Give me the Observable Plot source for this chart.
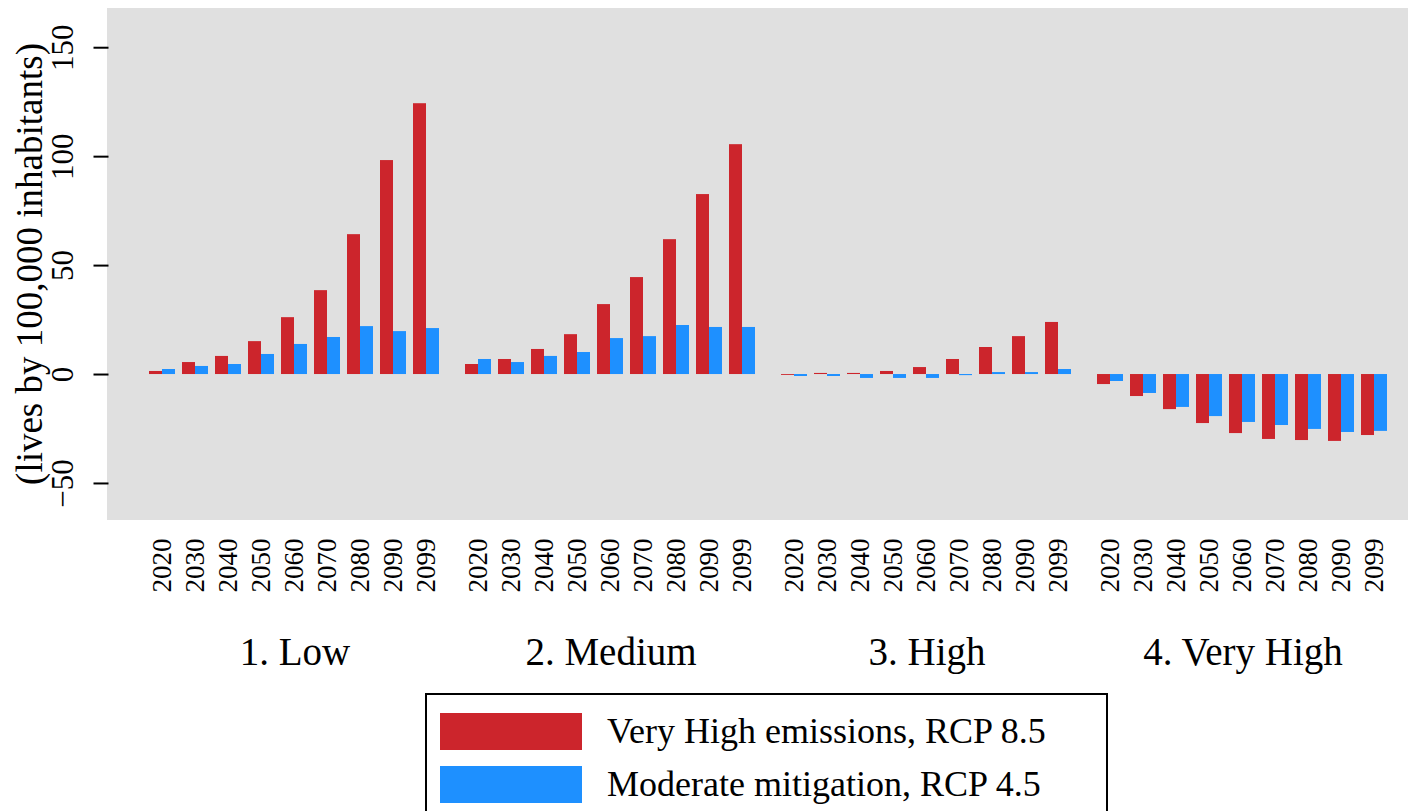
<!DOCTYPE html>
<html><head><meta charset="utf-8">
<script src="https://cdn.jsdelivr.net/npm/d3@7"></script>
<script src="https://cdn.jsdelivr.net/npm/@observablehq/plot@0.6"></script>
<style>
body{margin:0;background:#fff;font-family:"Liberation Serif",serif;}
#chart svg{display:block;}
#legend{margin-left:425px;margin-top:3px;width:679px;height:130px;border:2px solid #000;box-sizing:content-box;position:relative;}
.row{position:absolute;left:13px;display:flex;align-items:center;}
.sw{width:142px;height:37px;}
.lab{margin-left:25px;font-size:36px;color:#000;}
</style></head><body>
<div id="chart"></div>
<div id="legend"></div>
<script>
const groups = ["1. Low", "2. Medium", "3. High", "4. Very High"];
const years = ["2020", "2030", "2040", "2050", "2060", "2070", "2080", "2090", "2099"];
const scenarios = ["Very High emissions, RCP 8.5", "Moderate mitigation, RCP 4.5"];
const colors = ["#cc252c", "#1e90ff"];
const yLabel = "(lives by 100,000 inhabitants)";

// RCP 8.5 values per group (lives by 100,000 inhabitants)
const rcp85Low      = [1.4, 5.5, 8.3, 15.1, 26.1, 38.5, 64.2, 98.2, 124.3];
const rcp85Medium   = [4.6, 6.9, 11.5, 18.3, 32.1, 44.5, 61.9, 82.6, 105.5];
const rcp85High     = [-0.4, 0.5, 0.5, 1.4, 3.2, 6.9, 12.4, 17.4, 23.9];
const rcp85VeryHigh = [-4.6, -10.1, -16.1, -22.5, -27.1, -29.8, -30.3, -30.7, -28.0];
// RCP 4.5 values per group
const rcp45Low      = [2.3, 3.7, 4.6, 9.2, 13.8, 17.0, 22.0, 19.7, 21.1];
const rcp45Medium   = [6.9, 5.5, 8.3, 10.1, 16.5, 17.4, 22.5, 21.6, 21.6];
const rcp45High     = [-0.9, -0.9, -1.8, -1.8, -1.8, -0.5, 0.9, 0.9, 2.3];
const rcp45VeryHigh = [-3.2, -8.7, -15.1, -19.3, -22.0, -23.4, -25.2, -26.6, -26.1];

const yTicks = [-50, 0, 50, 100, 150];

const series85 = [rcp85Low, rcp85Medium, rcp85High, rcp85VeryHigh];
const series45 = [rcp45Low, rcp45Medium, rcp45High, rcp45VeryHigh];
const rows85 = [], rows45 = [];
groups.forEach((g, gi) => years.forEach((yr, i) => {
  rows85.push({group: g, year: yr, value: series85[gi][i]});
  rows45.push({group: g, year: yr, value: series45[gi][i]});
}));

const serif = "Liberation Serif";
const W = 1408, H = 690, mL = 107, mT = 8, mB = 170;
const plot = Plot.plot({
  width: W, height: H,
  marginLeft: mL, marginRight: 0, marginTop: mT, marginBottom: mB,
  style: {fontFamily: serif, background: "transparent", color: "#000"},
  fx: {domain: groups, range: [143.5, 1394], paddingInner: 17/316, paddingOuter: 0, label: null},
  x: {domain: years, paddingInner: 0.212, paddingOuter: 0.106, label: null},
  y: {domain: [-67, 168], label: null},
  marks: [
    Plot.barY(rows85, {fx: "group", x: "year", y: "value", fill: colors[0], insetRight: 13}),
    Plot.barY(rows45, {fx: "group", x: "year", y: "value", fill: colors[1], insetLeft: 13}),
    Plot.axisX({anchor: "bottom", tickRotate: -90, tickSize: 0, tickPadding: 18, fontSize: 27, label: null}),
    Plot.axisFx({anchor: "bottom", tickSize: 0, tickPadding: 117, fontSize: 39, label: null}),
    Plot.axisY({anchor: "left", ticks: yTicks, tickSize: 15, tickPadding: 21, tickRotate: -90, fontSize: 31, strokeWidth: 2,
      dx: -36.5, label: null})
  ]
});
const svg = d3.select(plot);
// grey plotting panel behind the marks
svg.insert("rect", "g")
  .attr("x", mL).attr("y", mT).attr("width", W - mL).attr("height", H - mT - mB)
  .attr("fill", "#e0e0e0");
// y-axis title
svg.append("text")
  .attr("transform", `translate(29,${(mT + H - mB) / 2}) rotate(-90)`)
  .attr("text-anchor", "middle").attr("dominant-baseline", "central")
  .attr("font-family", serif).attr("font-size", 37).attr("fill", "#000")
  .text(yLabel);
document.getElementById("chart").appendChild(plot);

const legend = document.getElementById("legend");
scenarios.forEach((s, i) => {
  const row = document.createElement("div");
  row.className = "row";
  row.style.top = (15 + i * 53) + "px";
  row.innerHTML = `<div class="sw" style="background:${colors[i]}"></div><div class="lab">${s}</div>`;
  legend.appendChild(row);
});
</script>
</body></html>
